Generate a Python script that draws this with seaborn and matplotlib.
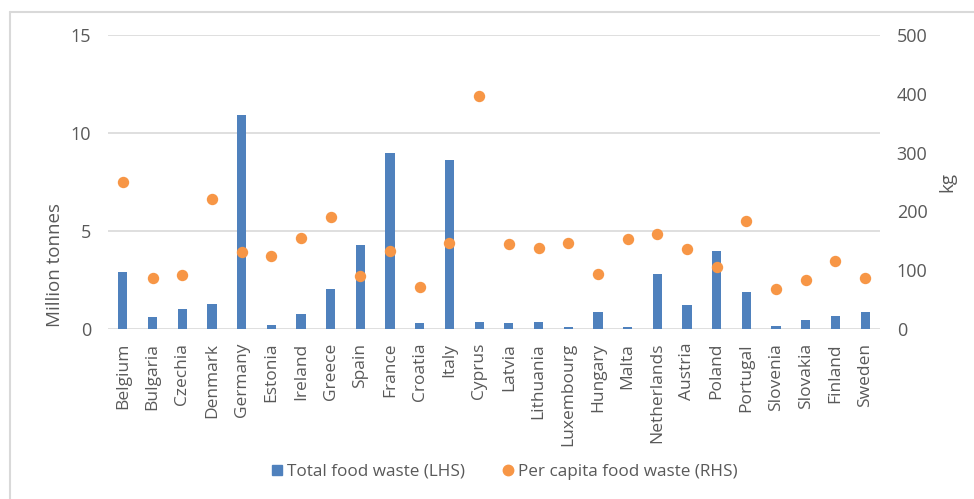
import matplotlib
matplotlib.use("Agg")
import matplotlib.pyplot as plt
from matplotlib.lines import Line2D
import seaborn as sns
import pandas as pd

countries = ["Belgium", "Bulgaria", "Czechia", "Denmark", "Germany", "Estonia",
             "Ireland", "Greece", "Spain", "France", "Croatia", "Italy", "Cyprus",
             "Latvia", "Lithuania", "Luxembourg", "Hungary", "Malta", "Netherlands",
             "Austria", "Poland", "Portugal", "Slovenia", "Slovakia", "Finland", "Sweden"]
total_mt = [2.9, 0.6, 1.0, 1.3, 10.9, 0.2, 0.77, 2.06, 4.27, 9.0, 0.29, 8.64, 0.36,
            0.29, 0.37, 0.12, 0.88, 0.1, 2.8, 1.2, 4.0, 1.89, 0.14, 0.44, 0.64, 0.88]
per_capita_kg = [250, 86, 91, 221, 131, 125, 155, 191, 90, 133, 71, 146, 397,
                 145, 137, 147, 93, 153, 161, 136, 106, 184, 68, 83, 116, 87]
left_ticks = [0, 5, 10, 15]
right_ticks = [0, 100, 200, 300, 400, 500]

BLUE = "#4F81BD"
ORANGE = "#F79646"
TEXT = "#595959"
GRID = "#D9D9D9"

sns.set_theme(style="white")
plt.rcParams["font.family"] = ["Open Sans", "DejaVu Sans"]

df = pd.DataFrame({"country": countries, "total": total_mt, "per_capita": per_capita_kg})

fig = plt.figure(figsize=(9.74, 4.99), dpi=100)
ax = fig.add_axes([108 / 974, 1 - 329 / 499, (880 - 108) / 974, (329 - 35) / 499])

sns.barplot(data=df, x="country", y="total", color=BLUE, width=0.31,
            saturation=1, linewidth=0, edgecolor=BLUE, ax=ax, zorder=2)

ax2 = ax.twinx()
sns.stripplot(data=df, x="country", y="per_capita", color=ORANGE, jitter=False,
              size=8.2, linewidth=0, ax=ax2, zorder=3)

n = len(countries)
ax.set_xlim(-0.5, n - 0.5)
ax2.set_xlim(-0.5, n - 0.5)
ax.set_ylim(0, 15)
ax2.set_ylim(0, 500)
ax.set_yticks(left_ticks)
ax2.set_yticks(right_ticks)

ax.yaxis.grid(True, color=GRID, linewidth=1.2, zorder=0)
ax.set_axisbelow(True)
for a in (ax, ax2):
    for s in a.spines.values():
        s.set_visible(False)
    a.set_xlabel("")
    a.set_ylabel("")

ax.set_xticks(range(n))
ax.set_xticklabels(countries, rotation=90, fontsize=12.5, color=TEXT)
ax.tick_params(axis="x", length=0, pad=10)
ax.tick_params(axis="y", length=0, pad=12, labelsize=13, labelcolor=TEXT)
ax2.tick_params(axis="y", length=0, pad=12, labelsize=13, labelcolor=TEXT)

fig.text(55 / 974, 1 - 265 / 499, "Million tonnes", rotation=90, ha="center",
         va="center", fontsize=13.5, color=TEXT)
fig.text(947 / 974, 1 - 182 / 499, "kg", rotation=90, ha="center", va="center",
         fontsize=13.5, color=TEXT)

handles = [
    Line2D([], [], marker="s", linestyle="none", color=BLUE, markersize=7),
    Line2D([], [], marker="o", linestyle="none", color=ORANGE, markersize=7.5),
]
fig.legend(handles, ["Total food waste (LHS)", "Per capita food waste (RHS)"],
           loc="center", bbox_to_anchor=(503 / 974, 1 - 472 / 499), ncol=2,
           frameon=False, fontsize=12.3, labelcolor=TEXT, handletextpad=0.1,
           columnspacing=2.0, handlelength=1.0)

# chart frame edges (top and left)
fig.add_artist(Line2D([10 / 974, 10 / 974], [0, 1 - 12 / 499],
                      transform=fig.transFigure, color=GRID, linewidth=1.5))
fig.add_artist(Line2D([10 / 974, 1], [1 - 12 / 499, 1 - 12 / 499],
                      transform=fig.transFigure, color=GRID, linewidth=1.5))

fig.savefig("out.png", dpi=100)
